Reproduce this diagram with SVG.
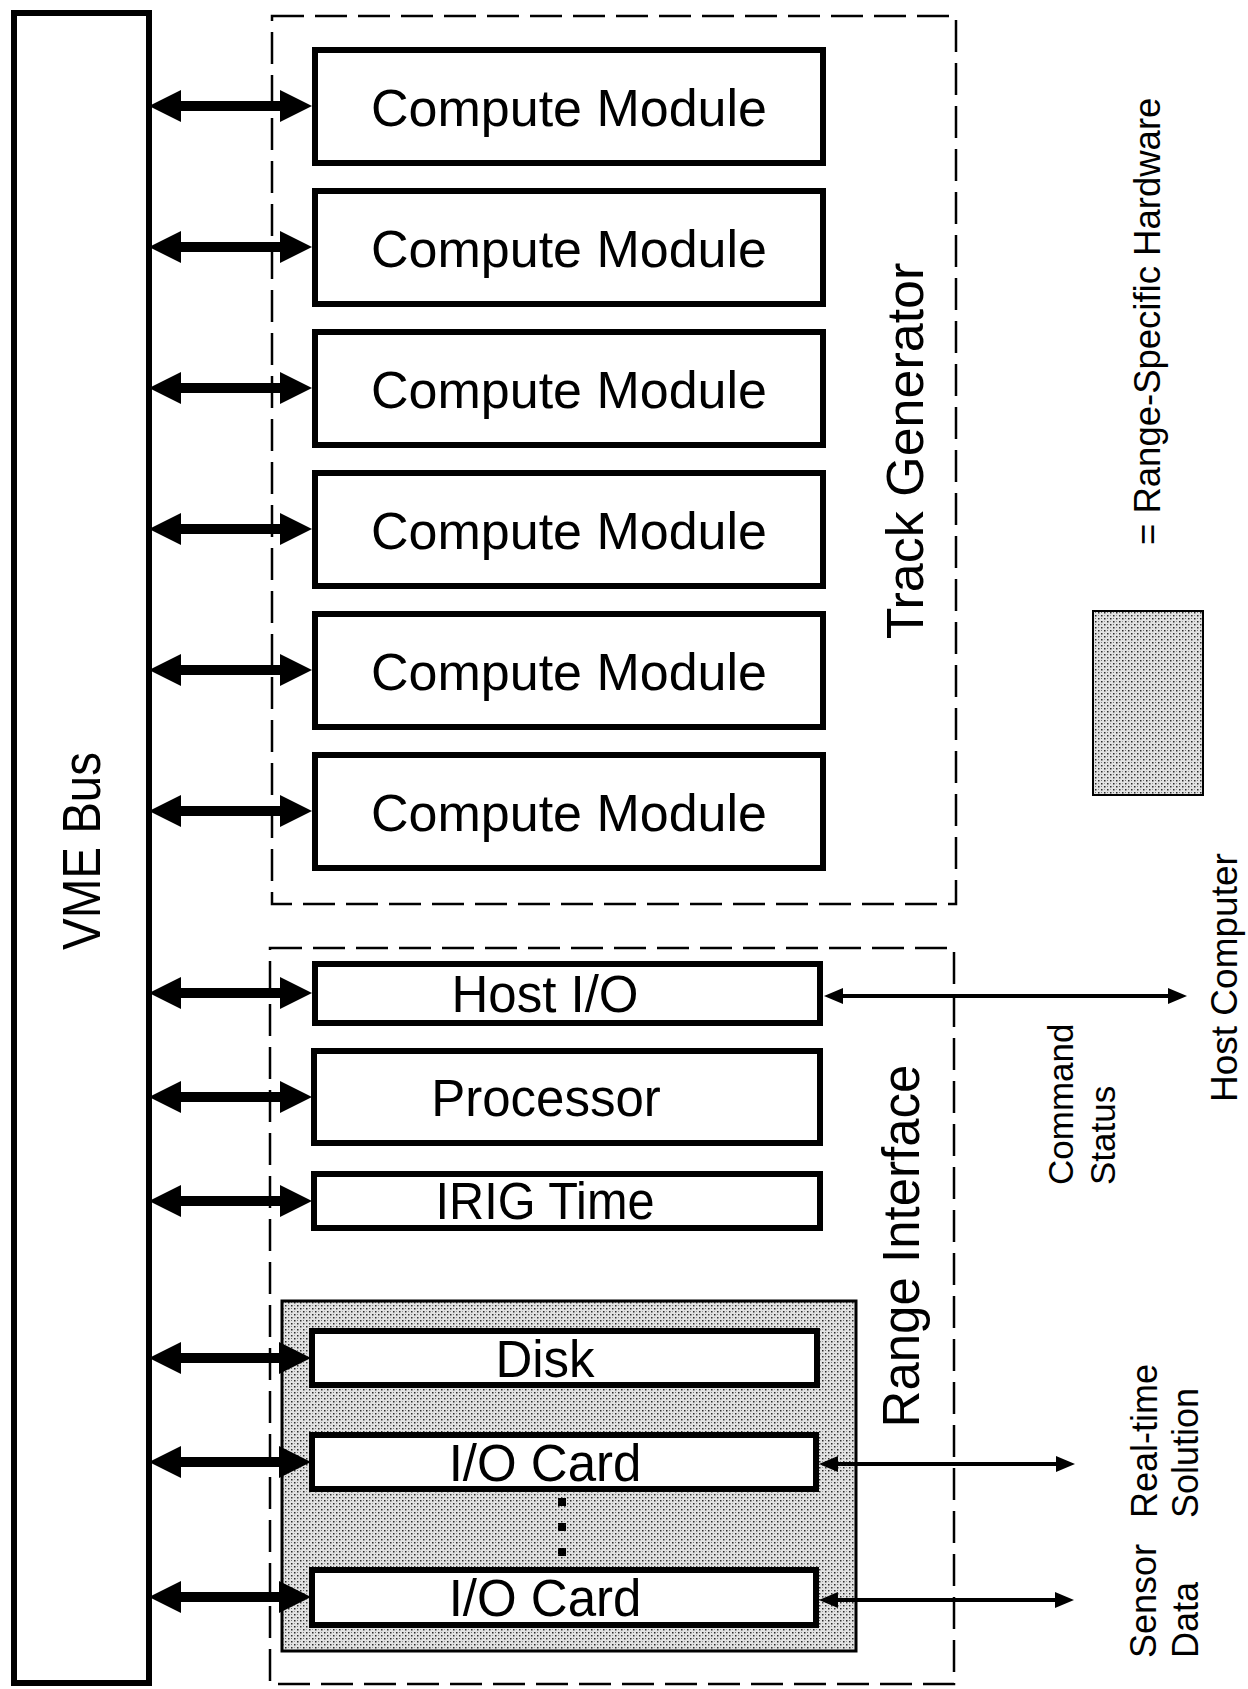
<svg xmlns="http://www.w3.org/2000/svg" width="1248" height="1689" viewBox="0 0 1248 1689">
<defs>
<style>
.box{fill:#fff;stroke:#000;stroke-width:6}
.dash{fill:none;stroke:#000;stroke-width:2.5;stroke-dasharray:32 11}
.t{font-family:"Liberation Sans",Arial,Helvetica,sans-serif;fill:#000}
.thick{stroke:#000;stroke-width:10;marker-start:url(#hb);marker-end:url(#hb)}
.thin{stroke:#000;stroke-width:4;marker-start:url(#hs);marker-end:url(#hs)}
.stip{fill:url(#stip);stroke:#000;stroke-width:3}
</style>
<pattern id="stip" width="6" height="6" patternUnits="userSpaceOnUse">
<rect width="6" height="6" fill="#e2e2e2"/>
<rect x="0" y="0" width="1.5" height="1.5" fill="#2a2a2a"/>
<rect x="3" y="3" width="1.5" height="1.5" fill="#2a2a2a"/>
<rect x="3" y="0" width="1" height="1" fill="#777"/>
<rect x="0" y="3" width="1" height="1" fill="#999"/>
</pattern>
<marker id="hb" markerUnits="userSpaceOnUse" markerWidth="40" markerHeight="40" viewBox="0 -20 40 40" refX="1" refY="0" orient="auto-start-reverse" overflow="visible">
<path d="M0,-16 L32,0 L0,16 Z" fill="#000"/>
</marker>
<marker id="hs" markerUnits="userSpaceOnUse" markerWidth="24" markerHeight="20" viewBox="0 -10 24 20" refX="1" refY="0" orient="auto-start-reverse" overflow="visible">
<path d="M0,-8 L19,0 L0,8 Z" fill="#000"/>
</marker>
</defs>
<rect width="1248" height="1689" fill="#fff"/>

<!-- containers -->
<g id="track-generator">
<rect class="dash" x="272" y="16" width="684" height="888"/>
<text class="t" transform="translate(923,451) rotate(-90)" font-size="52" text-anchor="middle">Track Generator</text>
</g>
<g id="range-interface">
<rect class="dash" x="270" y="948" width="684" height="736"/>
<text class="t" transform="translate(919,1246) rotate(-90)" font-size="51" text-anchor="middle">Range Interface</text>
</g>
<g id="range-specific-area">
<rect class="stip" x="282" y="1301" width="574" height="350"/>
</g>

<!-- VME bus -->
<g id="vme-bus">
<rect class="box" x="14" y="13" width="135" height="1670"/>
<text class="t" transform="translate(100,851) rotate(-90)" font-size="54" text-anchor="middle" textLength="198" lengthAdjust="spacingAndGlyphs">VME Bus</text>
</g>

<!-- compute modules -->
<g id="cm1"><rect class="box" x="315" y="50" width="508" height="113"/><text class="t" x="569" y="126" font-size="52" text-anchor="middle">Compute Module</text></g>
<g id="cm2"><rect class="box" x="315" y="191" width="508" height="113"/><text class="t" x="569" y="267" font-size="52" text-anchor="middle">Compute Module</text></g>
<g id="cm3"><rect class="box" x="315" y="332" width="508" height="113"/><text class="t" x="569" y="408" font-size="52" text-anchor="middle">Compute Module</text></g>
<g id="cm4"><rect class="box" x="315" y="473" width="508" height="113"/><text class="t" x="569" y="549" font-size="52" text-anchor="middle">Compute Module</text></g>
<g id="cm5"><rect class="box" x="315" y="614" width="508" height="113"/><text class="t" x="569" y="690" font-size="52" text-anchor="middle">Compute Module</text></g>
<g id="cm6"><rect class="box" x="315" y="755" width="508" height="113"/><text class="t" x="569" y="831" font-size="52" text-anchor="middle">Compute Module</text></g>

<!-- range interface modules -->
<g id="host-io"><rect class="box" x="315" y="964" width="505" height="59"/><text class="t" x="545" y="1012" font-size="51" text-anchor="middle">Host I/O</text></g>
<g id="processor"><rect class="box" x="314" y="1051" width="506" height="92"/><text class="t" x="546" y="1116" font-size="51" text-anchor="middle">Processor</text></g>
<g id="irig-time"><rect class="box" x="314" y="1174" width="506" height="54"/><text class="t" x="545" y="1219" font-size="51" text-anchor="middle" textLength="219" lengthAdjust="spacingAndGlyphs">IRIG Time</text></g>
<g id="disk"><rect class="box" x="312" y="1331" width="505" height="54"/><text class="t" x="545" y="1377" font-size="51" text-anchor="middle">Disk</text></g>
<g id="io-card-1"><rect class="box" x="312" y="1435" width="504" height="54"/><text class="t" x="545" y="1481" font-size="51" text-anchor="middle">I/O Card</text></g>
<g id="io-card-2"><rect class="box" x="312" y="1570" width="504" height="55"/><text class="t" x="545" y="1616" font-size="51" text-anchor="middle">I/O Card</text></g>
<g id="ellipsis">
<rect x="558" y="1498" width="8" height="8" fill="#000"/>
<rect x="558" y="1523" width="8" height="8" fill="#000"/>
<rect x="558" y="1548" width="8" height="8" fill="#000"/>
</g>

<!-- external labels -->
<g id="host-computer"><text class="t" transform="translate(1237,1102) rotate(-90)" font-size="37">Host Computer</text></g>
<g id="command-status">
<text class="t" transform="translate(1073,1185) rotate(-90)" font-size="35">Command</text>
<text class="t" transform="translate(1115,1185) rotate(-90)" font-size="35">Status</text>
</g>
<g id="real-time-solution">
<text class="t" transform="translate(1157,1518) rotate(-90)" font-size="36">Real-time</text>
<text class="t" transform="translate(1198,1518) rotate(-90)" font-size="36">Solution</text>
</g>
<g id="sensor-data">
<text class="t" transform="translate(1156,1658) rotate(-90)" font-size="36">Sensor</text>
<text class="t" transform="translate(1198,1658) rotate(-90)" font-size="36">Data</text>
</g>

<!-- legend -->
<g id="legend">
<rect x="1093" y="611" width="110" height="184" fill="url(#stip)" stroke="#000" stroke-width="2"/>
<text class="t" transform="translate(1160,545) rotate(-90)" font-size="36.5">= Range-Specific Hardware</text>
</g>

<!-- connectors -->
<g id="connectors">
<line class="thick" x1="180" y1="106" x2="281" y2="106"/>
<line class="thick" x1="180" y1="247" x2="281" y2="247"/>
<line class="thick" x1="180" y1="388" x2="281" y2="388"/>
<line class="thick" x1="180" y1="529" x2="281" y2="529"/>
<line class="thick" x1="180" y1="670" x2="281" y2="670"/>
<line class="thick" x1="180" y1="811" x2="281" y2="811"/>
<line class="thick" x1="180" y1="993" x2="281" y2="993"/>
<line class="thick" x1="180" y1="1097" x2="281" y2="1097"/>
<line class="thick" x1="180" y1="1201" x2="281" y2="1201"/>
<line class="thick" x1="180" y1="1358" x2="280" y2="1358"/>
<line class="thick" x1="180" y1="1462" x2="280" y2="1462"/>
<line class="thick" x1="180" y1="1597" x2="280" y2="1597"/>
<line class="thin" x1="842" y1="996" x2="1169" y2="996"/>
<line class="thin" x1="837" y1="1464" x2="1057" y2="1464"/>
<line class="thin" x1="837" y1="1600" x2="1056" y2="1600"/>
</g>
</svg>
